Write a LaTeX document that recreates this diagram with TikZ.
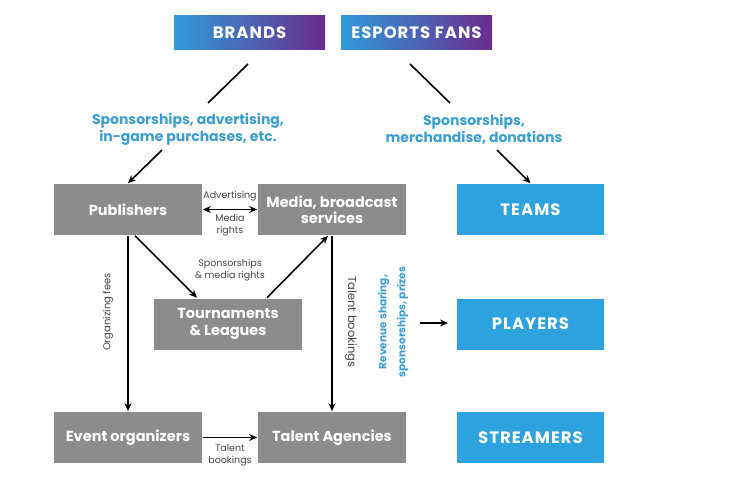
\documentclass[tikz,border=0pt]{standalone}
\usepackage{fontspec}
\setmainfont{Poppins}
\usetikzlibrary{arrows.meta}
\definecolor{boxgray}{HTML}{8B8C8E}
\definecolor{boxblue}{HTML}{2CA3DE}
\definecolor{textblue}{HTML}{3A9ED0}
\definecolor{gradblue}{HTML}{2F9CDA}
\definecolor{gradpurple}{HTML}{6A2B8E}
\definecolor{labelgray}{HTML}{444444}
\begin{document}
\begin{tikzpicture}[x=1pt, y=-1pt, line width=1.6pt, >={Stealth[length=8pt, width=7pt]},
  grey/.style = {fill=boxgray, text=white, font=\bfseries\fontsize{14.5}{16.5}\selectfont, minimum width=148pt, minimum height=51pt, inner sep=0pt, align=center},
  blue/.style = {fill=boxblue, text=white, font=\bfseries\fontsize{16.5}{18}\selectfont\addfontfeatures{LetterSpace=6}, minimum width=147pt, minimum height=51pt, inner sep=0pt},
  top/.style = {left color=gradblue, right color=gradpurple, text=white, font=\bfseries\fontsize{16.5}{18}\selectfont\addfontfeatures{LetterSpace=6}, minimum width=151pt, minimum height=34pt, inner sep=0pt},
  money/.style = {text=textblue, font=\bfseries\fontsize{14}{17}\selectfont, align=center, inner sep=0pt},
  small/.style = {text=labelgray, font=\fontsize{9.5}{12}\selectfont, align=center, inner sep=0pt}]

	\useasboundingbox (0,0) rectangle (730,481);

	\node[top] (1) at (249.5,33) {BRANDS};
	\node[top] (2) at (416.5,33) {ESPORTS FANS};

	\node[grey] (3) at (128,209.5) {Publishers};
	\node[grey] (4) at (332,209.5) {Media, broadcast\\services};
	\node[grey] (5) at (228,324) {Tournaments\\\& Leagues};
	\node[grey] (6) at (128,437.5) {Event organizers};
	\node[grey] (7) at (332,437.5) {Talent Agencies};

	\node[blue] (8) at (530.5,209.5) {TEAMS};
	\node[blue] (9) at (530.5,324) {PLAYERS};
	\node[blue] (10) at (530.5,437.5) {STREAMERS};

	\node[money] (11) at (188,129.5) {Sponsorships, advertising,\\in-game purchases, etc.};
	\node[money] (12) at (474,129.5) {Sponsorships,\\merchandise, donations};
	\node[money, rotate=90, font=\bfseries\fontsize{10.5}{19}\selectfont] (13) at (393,322) {Revenue sharing,\\sponsorships, prizes};

	\coordinate (a1) at (248,64);
	\coordinate (a2) at (208,103);
	\coordinate (a3) at (162,150);
	\coordinate (b1) at (410,64);
	\coordinate (b2) at (450,103);
	\coordinate (b3) at (497,150);
	\coordinate (c1) at (420,323);
	\coordinate (c2) at (448,323);

	\draw (a1) -- (a2);
	\draw[->] (a3) -- (3.north);
	\draw (b1) -- (b2);
	\draw[->] (b3) -- (8.north);
	\draw[->] (c1) -- (c2);

	\draw[<->] (3) -- node[small, pos=0.5, above=8pt] {Advertising} node[small, pos=0.5, below=4pt] {Media\\rights} (4);
	\draw[->] ([xshift=7pt]3.south) -- ([xshift=-31pt]5.north);
	\draw[->] ([xshift=39pt]5.north) -- ([xshift=-4pt]4.south);
	\node[small] (14) at (230,270) {Sponsorships\\\& media rights};
	\draw[->] (3) -- (6);
	\node[small, rotate=90, font=\fontsize{10}{12}\selectfont] (15) at (108,312) {Organizing fees};
	\draw[->] (4) -- (7);
	\node[small, rotate=-90, font=\fontsize{11.5}{12}\selectfont] (16) at (351,322) {Talent bookings};
	\draw[->] (6) -- node[small, pos=0.5, below=6pt] {Talent\\bookings} (7);
\end{tikzpicture}
\end{document}
